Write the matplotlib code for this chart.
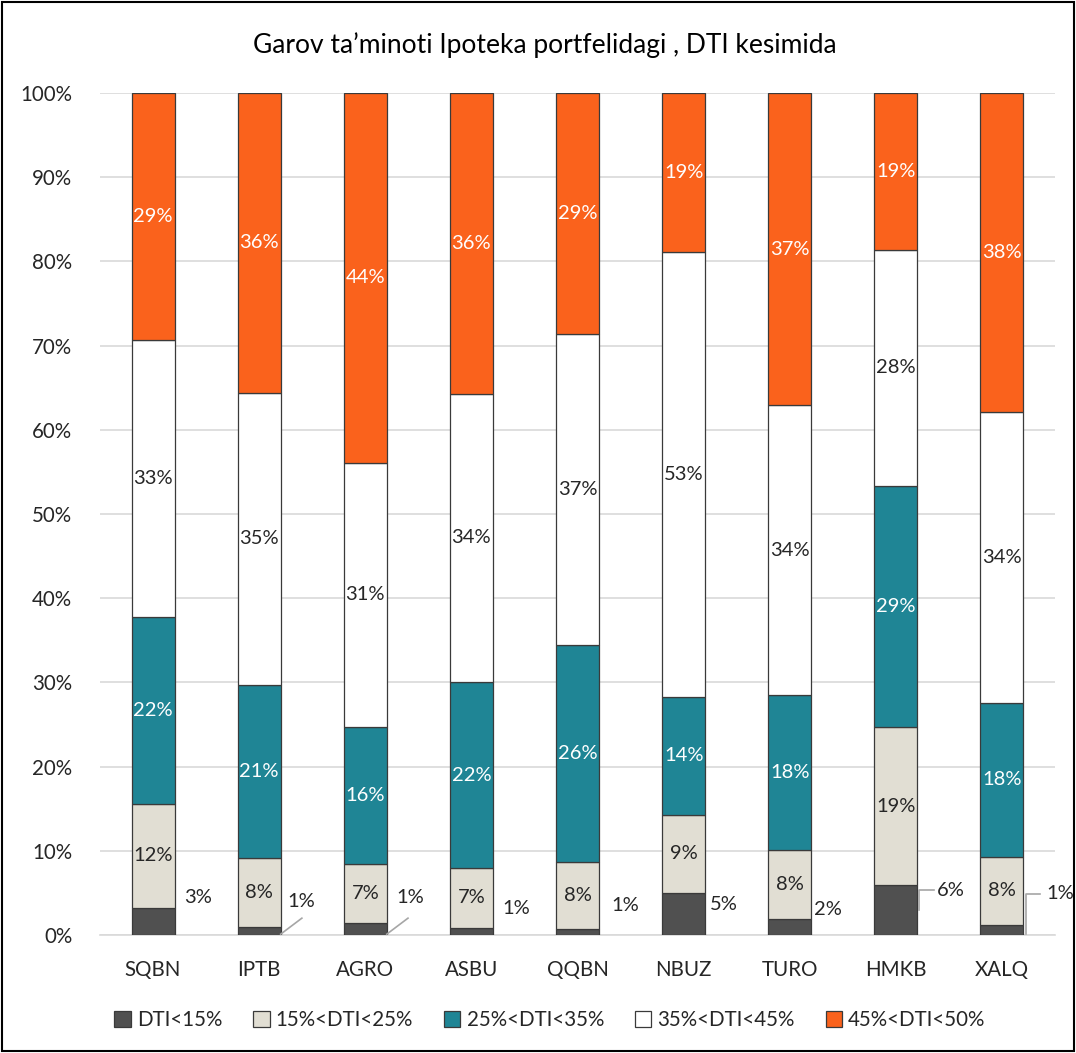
import matplotlib
matplotlib.use("Agg")
import matplotlib.pyplot as plt
import numpy as np

plt.rcParams['font.family'] = ['Lato', 'DejaVu Sans']

banks = ["SQBN", "IPTB", "AGRO", "ASBU", "QQBN", "NBUZ", "TURO", "HMKB", "XALQ"]
series_names = ["DTI<15%", "15%<DTI<25%", "25%<DTI<35%", "35%<DTI<45%", "45%<DTI<50%"]
dti_lt15 = [3.2, 0.95, 1.4, 0.8, 0.7, 5.0, 1.9, 5.9, 1.2]
dti_15_25 = [12.4, 8.2, 7.0, 7.2, 8.0, 9.3, 8.2, 18.8, 8.1]
dti_25_35 = [22.2, 20.6, 16.3, 22.0, 25.7, 14.0, 18.4, 28.6, 18.3]
dti_35_45 = [32.9, 34.6, 31.4, 34.3, 37.0, 52.8, 34.4, 28.1, 34.5]
dti_45_50 = [29.3, 35.7, 43.9, 35.7, 28.6, 18.9, 37.1, 18.6, 37.9]
series = [dti_lt15, dti_15_25, dti_25_35, dti_35_45, dti_45_50]

colors = ["#505050", "#E1DED3", "#1F8595", "#FFFFFF", "#FA621C"]
text_colors = ["#262626", "#262626", "#FFFFFF", "#262626", "#FFFFFF"]

# label placement for the smallest segment (style: offsets in x-units / percent points)
small_dx = [0.42, 0.40, 0.42, 0.42, 0.45, 0.38, 0.36, 0.52, 0.55]
small_y = [4.4, 4.0, 4.4, 3.2, 3.5, 3.6, 3.0, 5.3, 4.9]
leader = [None, "diag", "diag", None, None, None, None, "elbow", "elbow"]

fig = plt.figure(figsize=(10.76, 10.53), dpi=100)
ax = fig.add_axes([100/1076, 1 - 935/1053, 955/1076, 842/1053])

x = np.arange(len(banks))
w = 0.405
bottom = np.zeros(len(banks))
for si, vals in enumerate(series):
    vals = np.array(vals)
    ax.bar(x, vals, w, bottom=bottom, color=colors[si], edgecolor="#3a3a3a",
           linewidth=0.9, label=series_names[si], zorder=3)
    for i, v in enumerate(vals):
        lab = f"{v:.0f}%"
        if si == 0:
            tx = x[i] + small_dx[i]
            ty = small_y[i]
            ax.text(tx, ty, lab, ha="center", va="center", fontsize=14.5,
                    color="#262626", zorder=5)
            if leader[i] == "diag":
                ax.plot([x[i] + w/2, x[i] + w/2 + 0.2], [0.1, 2.0], color="#A6A6A6",
                        lw=1.2, zorder=4, clip_on=False)
            elif leader[i] == "elbow":
                ax.plot([x[i] + w/2 + 0.02, x[i] + w/2 + 0.02, x[i] + w/2 + 0.16],
                        [vals[i] * 0.1 if vals[i] < 2 else 3.0, ty, ty],
                        color="#A6A6A6", lw=1.2, zorder=4, clip_on=False)
        else:
            ax.text(x[i], bottom[i] + v / 2, lab, ha="center", va="center",
                    fontsize=14.5, color=text_colors[si], zorder=5)
    bottom += vals

ax.set_xlim(-0.5, len(banks) - 0.5)
ax.set_ylim(0, 100)
ax.set_yticks(np.arange(0, 101, 10))
ax.set_yticklabels([f"{t}%" for t in range(0, 101, 10)])
ax.set_xticks(x)
ax.set_xticklabels(banks)
ax.tick_params(axis="both", length=0, labelsize=14.8, colors="#262626")
ax.tick_params(axis="x", pad=18)
ax.tick_params(axis="y", pad=20)
ax.yaxis.grid(True, color="#D9D9D9", lw=1.2, zorder=0)
for s in ["top", "right", "left"]:
    ax.spines[s].set_visible(False)
ax.spines["bottom"].set_color("#D9D9D9")
ax.spines["bottom"].set_linewidth(1.2)

fig.text(545/1076, 1 - 45/1053, "Garov ta’minoti Ipoteka portfelidagi , DTI kesimida",
         ha="center", va="center", fontsize=19, color="#000000")

leg = fig.legend(loc="center", bbox_to_anchor=(550/1076, 1 - 1020/1053), ncol=5,
                 frameon=False, fontsize=14.8, handlelength=0.8, handleheight=0.8,
                 handletextpad=0.3, columnspacing=1.5)
for t in leg.get_texts():
    t.set_color("#262626")

border = plt.Rectangle((0.002, 0.002), 0.996, 0.996, transform=fig.transFigure,
                       fill=False, edgecolor="#000000", lw=1.5)
fig.add_artist(border)

fig.savefig("out.png", dpi=100, facecolor="white")
